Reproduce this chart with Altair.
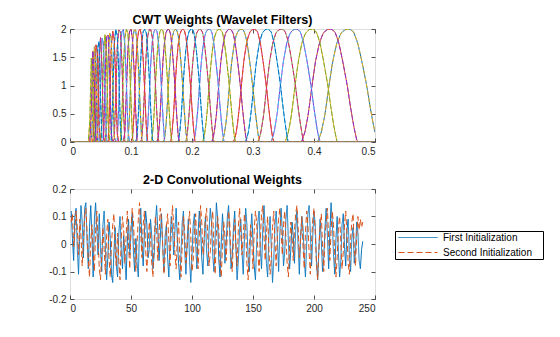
import altair as alt
import numpy as np
import pandas as pd

# ---------------- top panel: wavelet filter bank ----------------
filter_peaks = [0.458, 0.428, 0.398, 0.372, 0.348, 0.325, 0.303, 0.282, 0.263, 0.246,
                0.229, 0.214, 0.200, 0.186, 0.174, 0.162, 0.151, 0.141, 0.132, 0.123,
                0.115, 0.107, 0.100, 0.0934, 0.0872, 0.0814, 0.0760, 0.0709, 0.0662, 0.0618,
                0.0577, 0.0538, 0.0502, 0.0469, 0.0438, 0.0409, 0.0381, 0.0356]
filter_heights = [2.0] * 27 + [1.97, 1.95, 1.93, 1.90, 1.88, 1.85, 1.82, 1.78, 1.72, 1.62, 1.50]
# filter profile read from the widest filter (frequency / peak frequency -> relative magnitude)
profile_ratio = [0.887, 0.900, 0.913, 0.927, 0.940, 0.955, 0.970, 0.985, 1.000,
                 1.015, 1.030, 1.045, 1.062, 1.075, 1.088, 1.100]
profile_value = [0.0, 0.09, 0.25, 0.50, 0.71, 0.875, 0.965, 0.995, 1.00,
                 0.975, 0.875, 0.71, 0.50, 0.30, 0.125, 0.0]
freq_step = 0.0025
palette = ["#0072BD", "#D95319", "#EDB120", "#8E2BD6", "#77AC30", "#4DBEEE", "#E0208A"]

top_xticks = [0, 0.1, 0.2, 0.3, 0.4, 0.5]
top_yticks = [0, 0.5, 1, 1.5, 2]

# ---------------- bottom panel: convolutional weights ----------------
first_init = [
    0.12, 0.02, -0.06, 0.10, 0.13, -0.02, -0.11, 0.04, 0.14, 0.08, -0.05, 0.13, 0.15, 0.01, -0.09, 0.06, 0.14, 0.03, -0.12, 0.09,
    0.15, 0.05, -0.04, 0.11, -0.02, -0.10, 0.07, 0.12, -0.01, -0.13, -0.05, 0.08, 0.02, -0.11, -0.14, -0.03, 0.06, -0.08, -0.12, 0.04,
    0.10, -0.02, -0.09, 0.03, -0.06, -0.13, 0.01, 0.09, -0.04, 0.05, 0.11, -0.03, -0.10, 0.02, -0.07, -0.12, 0.06, 0.13, 0.00, -0.08,
    0.04, 0.12, 0.07, -0.05, -0.02, 0.09, 0.03, -0.09, -0.04, 0.08, 0.14, 0.05, -0.06, 0.02, 0.11, -0.01, -0.10, 0.03, 0.07, -0.05,
    -0.12, 0.00, 0.10, 0.06, -0.04, 0.05, 0.13, 0.02, -0.07, -0.13, -0.03, 0.08, 0.12, -0.02, -0.11, 0.01, 0.09, -0.06, -0.14, -0.04,
    0.07, 0.11, 0.00, -0.09, 0.04, 0.12, 0.06, -0.05, -0.11, 0.02, 0.10, -0.03, -0.08, 0.05, 0.13, 0.08, -0.04, -0.10, 0.03, 0.15,
    0.09, -0.06, -0.12, 0.01, 0.11, 0.04, -0.07, 0.00, 0.10, 0.14, 0.02, -0.09, -0.04, 0.06, 0.12, -0.01, -0.13, -0.06, 0.05, 0.09,
    -0.03, -0.11, 0.02, 0.13, 0.07, -0.05, -0.10, 0.04, 0.11, 0.01, -0.08, -0.13, 0.00, 0.08, 0.12, -0.02, -0.09, 0.05, 0.14, 0.06,
    -0.07, -0.12, 0.03, 0.10, -0.01, -0.14, -0.06, 0.07, 0.12, 0.02, -0.10, 0.04, 0.13, 0.05, -0.08, -0.03, 0.09, 0.14, 0.01, -0.09,
    -0.02, 0.08, 0.03, -0.07, 0.05, 0.12, -0.01, -0.11, 0.02, 0.10, 0.06, -0.05, -0.12, 0.00, 0.11, 0.14, 0.04, -0.08, 0.03, 0.12,
    0.07, -0.06, -0.13, -0.02, 0.09, 0.01, -0.10, -0.05, 0.06, 0.13, 0.03, -0.09, 0.04, 0.15, 0.08, -0.04, -0.11, 0.02, 0.10, -0.03,
    -0.12, -0.06, 0.07, 0.11, -0.01, -0.08, 0.05, 0.09, -0.04, -0.10, 0.02, 0.06, -0.07, -0.03, 0.08, 0.04, -0.06, -0.09, -0.02, 0.01,
]
second_init = [
    0.08, 0.11, -0.01, 0.05, 0.12, 0.06, -0.04, 0.09, 0.03, -0.08, 0.02, 0.10, 0.13, 0.04, -0.06, -0.12, 0.01, 0.07, -0.03, -0.10,
    0.05, 0.12, 0.02, -0.09, -0.13, -0.04, 0.06, -0.02, -0.11, 0.03, 0.09, -0.05, -0.12, 0.00, 0.07, 0.11, -0.03, -0.08, 0.04, -0.06,
    -0.13, 0.02, 0.10, 0.05, -0.07, 0.03, 0.12, -0.01, -0.09, 0.06, 0.13, 0.08, -0.03, -0.10, 0.01, 0.09, 0.15, 0.04, -0.05, 0.07,
    0.12, -0.02, -0.10, 0.00, 0.08, 0.03, -0.07, -0.12, 0.02, 0.10, 0.05, -0.06, 0.04, 0.13, 0.09, -0.01, -0.11, -0.04, 0.06, 0.11,
    0.01, -0.08, 0.05, 0.14, 0.07, -0.03, -0.09, 0.02, 0.08, -0.05, -0.12, 0.00, 0.10, 0.04, -0.07, -0.02, 0.06, 0.12, 0.03, -0.10,
    -0.06, 0.05, 0.11, -0.01, -0.09, 0.03, 0.14, 0.08, -0.04, 0.01, 0.09, 0.13, 0.02, -0.08, -0.03, 0.07, 0.12, -0.02, -0.11, 0.04,
    0.10, 0.05, -0.07, -0.12, 0.00, 0.08, 0.03, -0.06, 0.04, 0.12, 0.07, -0.05, -0.10, 0.02, 0.09, -0.01, -0.08, 0.06, 0.13, 0.04,
    -0.04, 0.03, 0.11, 0.06, -0.07, -0.13, -0.02, 0.07, 0.01, -0.09, 0.05, 0.12, 0.08, -0.03, -0.10, 0.02, 0.11, 0.14, 0.03, -0.06,
    0.04, 0.10, -0.02, -0.11, -0.05, 0.06, 0.12, 0.01, -0.08, 0.03, 0.09, 0.13, 0.05, -0.04, 0.07, 0.12, 0.02, -0.07, -0.12, 0.00,
    0.08, 0.03, -0.06, 0.05, 0.11, 0.14, 0.06, -0.05, 0.02, 0.10, -0.01, -0.09, 0.04, 0.12, 0.07, -0.03, -0.11, 0.01, 0.09, 0.13,
    0.04, -0.07, -0.13, -0.02, 0.06, 0.11, -0.01, -0.10, 0.03, 0.08, 0.13, 0.02, -0.06, 0.05, 0.12, 0.07, -0.04, -0.12, -0.05, 0.06,
    0.10, 0.01, -0.09, -0.03, 0.07, 0.12, 0.04, -0.07, -0.11, 0.02, 0.08, 0.11, -0.01, -0.08, 0.03, 0.10, 0.05, 0.09, 0.06, 0.08,
]
series_names = ["First Initialization", "Second Initialization"]
series_colors = ["#0072BD", "#D95319"]
bot_xticks = [0, 50, 100, 150, 200, 250]
bot_yticks = [-0.2, -0.1, 0, 0.1, 0.2]

# ---------------- build tables ----------------
grid = np.arange(0, 0.5 + freq_step / 2, freq_step)
rows = []
for j, (pk, h) in enumerate(zip(filter_peaks, filter_heights)):
    vals = h * np.interp(grid / pk, profile_ratio, profile_value, left=0.0, right=0.0)
    for f, v in zip(grid, vals):
        rows.append({"f": float(f), "w": float(v), "fid": j,
                     "sc": palette[j % 7], "dc": palette[(j + 2) % 7]})
top_df = pd.DataFrame(rows)

bot_df = pd.concat([
    pd.DataFrame({"i": np.arange(1, len(first_init) + 1), "v": first_init, "s": series_names[0]}),
    pd.DataFrame({"i": np.arange(1, len(second_init) + 1), "v": second_init, "s": series_names[1]}),
])

AX = "#262626"
FONT = "Liberation Sans"
MINUS = "replace(datum.label, '\u2212', '-')"


def lab_axis(vals, orient, fmt):
    return alt.Axis(values=vals, format=fmt, labelExpr=MINUS, ticks=False, domain=False,
                    grid=False, labelPadding=4, labelFontSize=10, labelColor=AX,
                    labelOverlap=False, title=None, orient=orient, labelFont=FONT)


def tick_axis(vals, orient):
    return alt.Axis(values=vals, labels=False, ticks=True, tickSize=4, offset=-4,
                    tickColor=AX, tickWidth=0.8, domain=False, grid=False, title=None,
                    orient=orient)


def frame_layers(xdom, ydom, xt, yt):
    d = pd.DataFrame({"x": xdom, "y": ydom})
    a = alt.Chart(d).mark_point(opacity=0).encode(
        x=alt.X("x:Q", scale=alt.Scale(domain=xdom), axis=tick_axis(xt, "bottom")),
        y=alt.Y("y:Q", scale=alt.Scale(domain=ydom), axis=tick_axis(yt, "left")))
    b = alt.Chart(d).mark_point(opacity=0).encode(
        x=alt.X("x:Q", scale=alt.Scale(domain=xdom), axis=tick_axis(xt, "top")),
        y=alt.Y("y:Q", scale=alt.Scale(domain=ydom), axis=tick_axis(yt, "right")))
    return [a, b]


tdom_x, tdom_y = [0, 0.5], [0, 2]
top_x = alt.X("f:Q", scale=alt.Scale(domain=tdom_x), axis=lab_axis(top_xticks, "bottom", "~g"))
top_y = alt.Y("w:Q", scale=alt.Scale(domain=tdom_y), axis=lab_axis(top_yticks, "left", "~g"))
top_base = alt.Chart(top_df)
top_solid = top_base.mark_line(strokeWidth=1, clip=True).encode(
    x=top_x, y=top_y, detail="fid:N",
    color=alt.Color("sc:N", scale=None, legend=None))
top_dash = top_base.mark_line(strokeWidth=1, strokeDash=[5, 2], clip=True).encode(
    x=top_x, y=top_y, detail="fid:N",
    color=alt.Color("dc:N", scale=None, legend=None))
top = alt.layer(alt.layer(top_solid, top_dash), *frame_layers(tdom_x, tdom_y, top_xticks, top_yticks)).resolve_axis(
    x="independent", y="independent").properties(
    width=305, height=113,
    title=alt.Title("CWT Weights (Wavelet Filters)", fontSize=12.5, fontWeight="bold",
                    font=FONT, color="#000000", offset=-2, anchor="middle"))

legend_kw = dict(title=None, orient="none", legendX=325, legendY=42,
                 symbolType="M-0.6,0H7.2M27.6,0H27.61", symbolSize=100, symbolStrokeWidth=1,
                 labelOffset=36, labelFontSize=10, labelFont=FONT, labelColor="#000000",
                 strokeColor="#000000", fillColor="#ffffff", padding=1, rowPadding=4)

bdom_x, bdom_y = [0, 250], [-0.2, 0.2]
bot_lines = alt.Chart(bot_df).mark_line(strokeWidth=1).encode(
    x=alt.X("i:Q", scale=alt.Scale(domain=bdom_x), axis=lab_axis(bot_xticks, "bottom", "d")),
    y=alt.Y("v:Q", scale=alt.Scale(domain=bdom_y), axis=lab_axis(bot_yticks, "left", "~g")),
    color=alt.Color("s:N", scale=alt.Scale(domain=series_names, range=series_colors),
                    legend=alt.Legend(**legend_kw)),
    strokeDash=alt.StrokeDash("s:N", scale=alt.Scale(domain=series_names, range=[[1, 0], [6, 3]]),
                              legend=alt.Legend(**legend_kw)),
)
bot = alt.layer(bot_lines, *frame_layers(bdom_x, bdom_y, bot_xticks, bot_yticks)).resolve_axis(
    x="independent", y="independent").properties(
    width=305, height=110,
    title=alt.Title("2-D Convolutional Weights", fontSize=12.5, fontWeight="bold",
                    font=FONT, color="#000000", offset=-2, anchor="middle"))

chart = alt.vconcat(top, bot, spacing=16).resolve_scale(
    color="independent", strokeDash="independent").resolve_legend(
    color="independent", strokeDash="independent").properties(
    padding={"left": 48, "top": 13, "right": 5, "bottom": 5},
    background="#ffffff",
).configure_view(stroke=AX, strokeWidth=1).configure(font=FONT)

chart.save("out.html", embed_options={"renderer": "svg", "actions": False})
